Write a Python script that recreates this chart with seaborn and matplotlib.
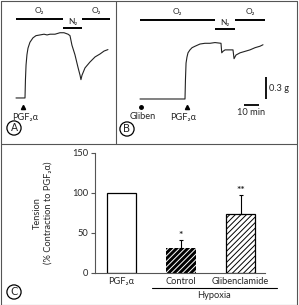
import matplotlib as mpl
mpl.use('Agg')
import matplotlib.pyplot as plt
import numpy as np
import pandas as pd
import seaborn as sns

W, H = 299, 305

# panel A trace: time (min) and tension (g)
a_time = [0, 6.0, 6.3, 6.7, 7.3, 8.0, 9.3, 11.3, 13.3, 16.0, 18.7, 20.7, 22.7, 26.0,
          29.3, 32.0, 34.7, 36.0, 37.3, 39.3, 41.3, 42.7, 43.3, 44.0, 46.0, 49.3,
          52.7, 56.0, 58.7, 61.3]
a_tension = [0, 0, 0.25, 0.45, 0.59, 0.68, 0.76, 0.82, 0.85, 0.86, 0.87, 0.86, 0.87, 0.87,
             0.89, 0.89, 0.87, 0.85, 0.72, 0.59, 0.42, 0.31, 0.25, 0.31, 0.41, 0.49,
             0.56, 0.60, 0.64, 0.66]
a_gas = ['O₂', 'N₂', 'O₂']
a_gas_start = [0, 31.3, 44.0]
a_gas_end = [31.3, 44.0, 62.7]
a_pgf_time = 4.7

# panel B trace
b_time = [0, 30.0, 30.3, 30.7, 31.3, 32.0, 33.3, 34.7, 36.7, 40.0, 43.3, 46.7, 50.0,
          54.0, 54.5, 55.3, 56.7, 59.3, 62.0, 62.7, 64.0, 66.7, 70.0, 73.3, 76.7,
          80.0, 82.0]
b_tension = [0, 0, 0.26, 0.49, 0.57, 0.63, 0.67, 0.70, 0.72, 0.75, 0.76, 0.76, 0.77,
             0.76, 0.63, 0.65, 0.67, 0.67, 0.67, 0.55, 0.60, 0.63, 0.65, 0.67, 0.70,
             0.72, 0.74]
b_gas = ['O₂', 'N₂', 'O₂']
b_gas_start = [0, 50.0, 63.3]
b_gas_end = [50.0, 63.3, 83.3]
b_glib_time = 0.7
b_pgf_time = 31.3

# panel C bars
c_labels = ['PGF₂α', 'Control', 'Glibenclamide']
c_values = [100, 31, 74]
c_sem = [0, 10, 23]
c_marks = ['', '*', '**']

sns.set_theme(style='white')
plt.rcParams['font.family'] = ['Lato', 'DejaVu Sans']
plt.rcParams['hatch.linewidth'] = 0.7

fig = plt.figure(figsize=(W / 100, H / 100), dpi=100)


def px_rect(x0, y0, x1, y1):
    return [x0 / W, 1 - y1 / H, (x1 - x0) / W, (y1 - y0) / H]


# overlay in pixel coordinates for the frame
bg = fig.add_axes([0, 0, 1, 1])
bg.set_xlim(0, W)
bg.set_ylim(H, 0)
bg.axis('off')
fc = '#555555'
bg.plot([1, 297, 297, 1, 1], [0.5, 0.5, 304.5, 304.5, 0.5], color=fc, lw=0.8)
bg.plot([1, 297], [144, 144], color=fc, lw=0.8)
bg.plot([116, 116], [0.5, 144], color=fc, lw=0.8)

circ = dict(boxstyle='circle,pad=0.2', fc='white', ec='black', lw=0.9)
for letter, (cx, cy) in zip(['A', 'B', 'C'], [(14, 128), (127, 129), (14, 292)]):
    bg.text(cx, cy, letter, fontsize=7.5, ha='center', va='center', bbox=circ,
            family=['DejaVu Sans'])

fs = 6.7
gas_y = {'O₂': 1.08, 'N₂': 0.96}
lab_y = {'O₂': 1.19, 'N₂': 1.05}


def trace_panel(rect, xlim, ylim, t, g, gas, gs, ge):
    ax = fig.add_axes(rect)
    ax.patch.set_alpha(0)
    ax.axis('off')
    sns.lineplot(x=t, y=g, ax=ax, color='#222222', lw=0.8, sort=False, estimator=None)
    for name, s, e in zip(gas, gs, ge):
        ax.hlines(gas_y[name], s, e, color='black', lw=1.4)
        ax.text((s + e) / 2, lab_y[name], name, fontsize=6, ha='center', va='center')
    ax.set_xlim(*xlim)
    ax.set_ylim(*ylim)
    return ax


axa = trace_panel(px_rect(1, 1, 116, 144), (-10, 66.67), (-0.628, 1.323),
                  a_time, a_tension, a_gas, a_gas_start, a_gas_end)
axa.plot([a_pgf_time], [-0.123], marker='^', ms=3, color='black')
axa.text(a_pgf_time + 1.3, -0.26, 'PGF₂α', fontsize=fs, ha='center', va='center')

axb = trace_panel(px_rect(116, 1, 297, 144), (-16, 104.67), (-0.614, 1.337),
                  b_time, b_tension, b_gas, b_gas_start, b_gas_end)
axb.plot([b_glib_time], [-0.109], marker='o', ms=2.5, color='black')
axb.text(b_glib_time + 1.3, -0.232, 'Gliben', fontsize=fs, ha='center', va='center')
axb.plot([b_pgf_time], [-0.109], marker='^', ms=3, color='black')
axb.text(b_pgf_time - 2.6, -0.246, 'PGF₂α', fontsize=fs, ha='center', va='center')
# scale bars
axb.hlines(-0.082, 69.3, 79.3, color='black', lw=1.3)
axb.text(74.3, -0.191, '10 min', fontsize=fs, ha='center', va='center')
axb.vlines(84, 0, 0.3, color='black', lw=1.3)
axb.text(86.3, 0.15, '0.3 g', fontsize=fs, ha='left', va='center')

# panel C
axc = fig.add_axes(px_rect(95, 153, 265, 273))
axc.patch.set_alpha(0)
df = pd.DataFrame({'group': c_labels, 'tension': c_values})
sns.barplot(data=df, x='group', y='tension', ax=axc, color='white', edgecolor='black',
            linewidth=0.9, width=0.49, errorbar=None, saturation=1)
bars = axc.patches
bars[1].set_facecolor('black')
bars[1].set_edgecolor('white')
bars[1].set_linewidth(0)
bars[1].set_hatch('//////')
bars[2].set_hatch('//////')
xs = np.arange(len(c_labels))
axc.errorbar(xs[1:], c_values[1:], yerr=[np.zeros(2), c_sem[1:]], fmt='none',
             ecolor='black', elinewidth=0.8, capsize=1.5, capthick=0.8)
for x, v, s, m in zip(xs, c_values, c_sem, c_marks):
    if m:
        axc.text(x, v + s, m, fontsize=7.5, ha='center', va='bottom', fontweight='bold')
axc.set_ylim(0, 150)
axc.set_xlim(-0.445, 2.41)
axc.set_yticks([0, 50, 100, 150])
axc.tick_params(axis='y', length=3, width=0.8, color=fc, labelsize=fs, pad=2, left=True)
axc.tick_params(axis='x', length=0, labelsize=fs, pad=3)
for side in ['top', 'right']:
    axc.spines[side].set_visible(False)
for side in ['left', 'bottom']:
    axc.spines[side].set_color(fc)
    axc.spines[side].set_linewidth(0.8)
axc.set_xlabel('')
axc.set_ylabel('Tension\n(% Contraction to PGF₂α)', fontsize=fs, linespacing=1.2)
axc.yaxis.set_label_coords(-0.25, 0.5)

bg.plot([152, 277], [287.5, 287.5], color='black', lw=0.8)
bg.text(214, 296, 'Hypoxia', fontsize=fs, ha='center', va='center')

fig.savefig('out.png', dpi=100)
